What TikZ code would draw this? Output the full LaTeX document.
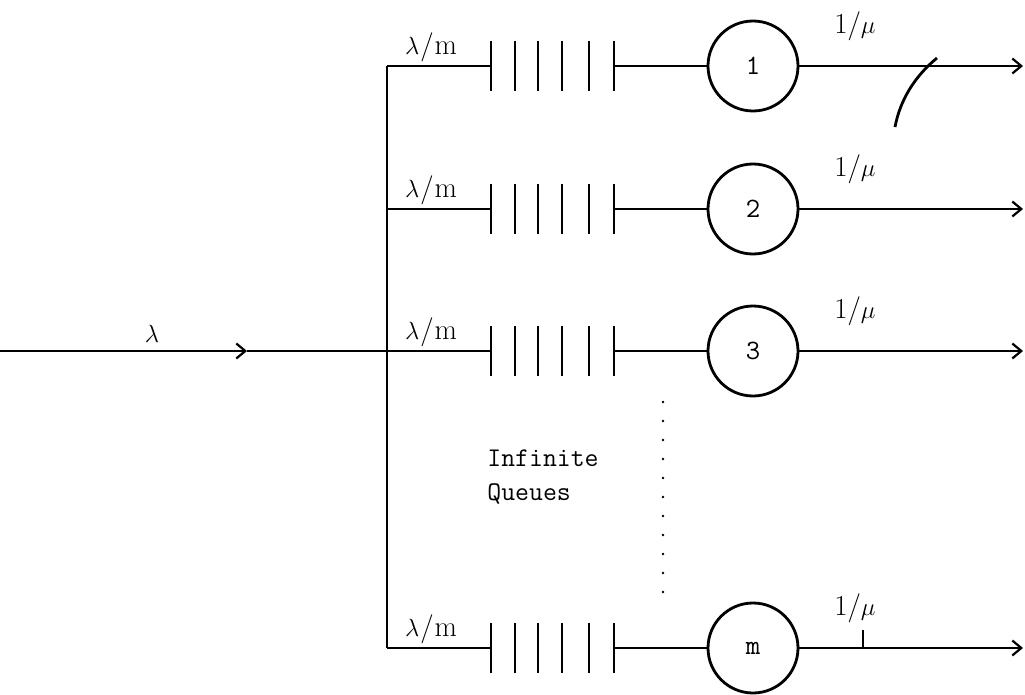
\documentclass[tikz,border=0pt]{standalone}
\usetikzlibrary{arrows.meta}
\begin{document}
\begin{tikzpicture}[x=1pt,y=-1pt,
  wire/.style={line width=2.8pt},
  srv/.style={circle,draw,line width=2.8pt,minimum size=90pt,inner sep=0pt,font=\ttfamily\fontsize{28}{28}\selectfont},
  lbl/.style={inner sep=0pt,font=\fontsize{29}{29}\selectfont},
  txt/.style={inner sep=0pt,align=left,font=\ttfamily\fontsize{27}{34}\selectfont},
  tip/.style={-{Straight Barb[length=9pt,width=15pt,line width=2.2pt]}}]
\useasboundingbox (0,0) rectangle (1025,695);
\foreach \nm/\y/\lab in {1/66/1, 2/209/2, 3/351/3, m/648/m} {
  \coordinate (j\nm) at (387,\y);
  \coordinate (q\nm) at (491,\y);
  \coordinate (e\nm) at (614,\y);
  \node[srv] (c\nm) at (753,\y) {\lab};
  \coordinate (o\nm) at (1023,\y);
  \draw[wire] (j\nm) -- (q\nm);
  \draw[wire] (e\nm) -- (c\nm);
  \draw[wire,tip] (c\nm) -- (o\nm);
  \foreach \bx in {491,515,538,562,589,614} \draw[wire] (\bx,\y-25) -- (\bx,\y+25);
  \node[lbl] (a\nm) at (431,\y-19) {$\lambda$\kern1pt/\kern1pt m};
  \node[lbl] (s\nm) at (855,\y-40) {1/$\mu$};
}
\draw[wire] (j1) -- (jm);
\coordinate (in) at (0,351);
\coordinate (ar) at (247,351);
\draw[wire,tip] (in) -- (ar);
\draw[wire] (ar) -- (j3);
\node[lbl] (lam) at (152,334) {$\lambda$};
\node[txt] (iq) at (543,477) {Infinite\\Queues};
\coordinate (d1) at (663,402);
\coordinate (d2) at (663,598);
\draw[line width=2.8pt,line cap=round,dash pattern=on 0pt off 19pt] (d1) -- (d2);
\coordinate (k1) at (937,58);
\coordinate (k2) at (895,127);
\draw[wire] (k1) .. controls (915,76) and (900,100) .. (k2);
\coordinate (t1) at (863,630);
\coordinate (t2) at (863,648);
\draw[wire] (t1) -- (t2);
\end{tikzpicture}
\end{document}
